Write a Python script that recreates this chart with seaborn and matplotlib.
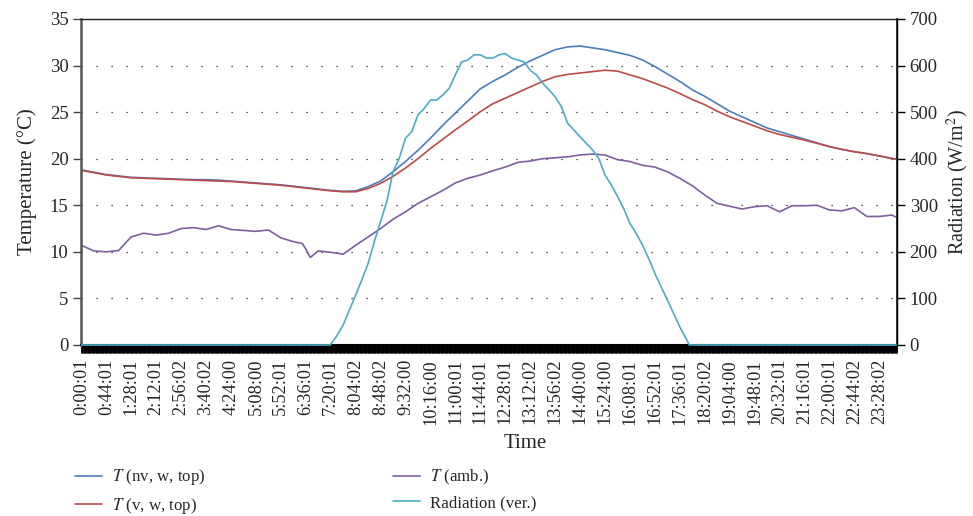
import numpy as np
import pandas as pd
import matplotlib
matplotlib.use("Agg")
import matplotlib.pyplot as plt
import seaborn as sns

# ---------------- data ----------------
tick_labels = ["0:00:01", "0:44:01", "1:28:01", "2:12:01", "2:56:02", "3:40:02",
               "4:24:00", "5:08:00", "5:52:01", "6:36:01", "7:20:01", "8:04:02",
               "8:48:02", "9:32:00", "10:16:00", "11:00:01", "11:44:01", "12:28:01",
               "13:12:02", "13:56:02", "14:40:00", "15:24:00", "16:08:01", "16:52:01",
               "17:36:01", "18:20:02", "19:04:00", "19:48:01", "20:32:01", "21:16:01",
               "22:00:01", "22:44:02", "23:28:02"]
tick_minutes = [0, 44, 88, 132, 176, 220, 264, 308, 352, 396, 440, 484, 528, 572,
                616, 660, 704, 748, 792, 836, 880, 924, 968, 1012, 1056, 1100, 1144,
                1188, 1232, 1276, 1320, 1364, 1408]
n_samples = 1440

temp_minutes = [0, 22, 44, 66, 88, 110, 132, 154, 176, 198,
                220, 242, 264, 286, 308, 330, 352, 374, 396, 418,
                440, 462, 484, 506, 528, 550, 572, 594, 616, 638,
                660, 682, 704, 726, 748, 770, 792, 814, 836, 858,
                880, 902, 924, 946, 968, 990, 1012, 1034, 1056, 1078,
                1100, 1122, 1144, 1166, 1188, 1210, 1232, 1254, 1276, 1298,
                1320, 1342, 1364, 1386, 1408, 1430, 1439]
t_nv_w_top = [18.8, 18.55, 18.3, 18.15, 18.0, 17.95, 17.9, 17.85, 17.8, 17.75,
              17.75, 17.7, 17.6, 17.5, 17.4, 17.3, 17.2, 17.05, 16.9, 16.75,
              16.6, 16.5, 16.55, 17.0, 17.6, 18.6, 19.7, 20.9, 22.2, 23.6,
              24.9, 26.2, 27.5, 28.3, 29.0, 29.8, 30.5, 31.1, 31.7, 32.0,
              32.1, 31.9, 31.7, 31.4, 31.1, 30.6, 29.9, 29.1, 28.3, 27.4,
              26.7, 25.9, 25.1, 24.5, 23.9, 23.3, 22.9, 22.5, 22.1, 21.7,
              21.3, 21.0, 20.75, 20.55, 20.3, 20.05, 19.95]
t_v_w_top = [18.75, 18.5, 18.25, 18.1, 17.95, 17.9, 17.85, 17.8, 17.75, 17.7,
             17.65, 17.6, 17.55, 17.45, 17.35, 17.25, 17.15, 17.0, 16.85, 16.7,
             16.55, 16.45, 16.45, 16.8, 17.35, 18.1, 19.0, 20.0, 21.1, 22.1,
             23.1, 24.05, 25.05, 25.9, 26.5, 27.1, 27.7, 28.3, 28.8, 29.05,
             29.2, 29.35, 29.5, 29.4, 29.0, 28.6, 28.1, 27.6, 27.0, 26.35,
             25.8, 25.1, 24.5, 24.0, 23.5, 23.0, 22.6, 22.3, 22.0, 21.65,
             21.3, 21.0, 20.75, 20.55, 20.3, 20.0, 19.95]

amb_minutes = [0, 11, 22, 44, 66, 77, 88, 110, 132, 154, 176, 198, 220, 242, 264,
               286, 308, 330, 352, 374, 390, 396, 404, 418, 440, 462, 484, 506,
               528, 550, 572, 594, 616, 638, 660, 682, 704, 726, 748, 770, 792,
               814, 836, 858, 880, 902, 924, 946, 968, 990, 1012, 1034, 1056,
               1078, 1100, 1122, 1144, 1166, 1188, 1210, 1232, 1254, 1276, 1298,
               1320, 1342, 1364, 1386, 1408, 1430, 1439]
t_amb = [10.7, 10.4, 10.1, 10.0, 10.15, 10.9, 11.6, 12.0, 11.8, 12.0, 12.5, 12.6,
         12.4, 12.8, 12.4, 12.3, 12.2, 12.35, 11.5, 11.1, 10.9, 10.3, 9.4, 10.1,
         9.95, 9.75, 10.7, 11.6, 12.5, 13.5, 14.3, 15.2, 15.9, 16.6, 17.4, 17.9,
         18.25, 18.7, 19.1, 19.6, 19.75, 20.0, 20.1, 20.2, 20.4, 20.5, 20.4, 19.9,
         19.7, 19.3, 19.1, 18.6, 17.9, 17.1, 16.1, 15.2, 14.9, 14.6, 14.85, 14.95,
         14.3, 14.95, 14.95, 15.0, 14.5, 14.4, 14.75, 13.8, 13.8, 13.95, 13.7]

rad_minutes = [0, 439, 450, 462, 473, 484, 495, 506, 517, 528, 539, 550, 561, 572,
               583, 594, 605, 616, 627, 638, 649, 660, 671, 682, 693, 704, 715, 726,
               737, 748, 759, 770, 781, 792, 803, 814, 825, 836, 847, 858, 869, 880,
               891, 902, 913, 924, 935, 946, 957, 968, 979, 990, 1001, 1012, 1023,
               1034, 1045, 1056, 1067, 1073, 1439]
radiation = [0, 0, 18, 43, 75, 107, 140, 175, 222, 265, 308, 372, 401, 444,
             458, 494, 508, 526, 526, 537, 551, 580, 608, 612, 623, 623, 616, 616,
             623, 626, 616, 612, 608, 590, 580, 562, 548, 533, 512, 476, 462, 447,
             433, 419, 401, 365, 344, 319, 293, 261, 240, 215, 186, 154, 125,
             97, 68, 39, 14, 0, 0]

labels = ["$T$ (nv, w, top)", "$T$ (v, w, top)", "$T$ (amb.)", "Radiation (ver.)"]
colors = ["#4A7EBB", "#BE4B48", "#7D5FA0", "#4BACC6"]

# ---------------- styling ----------------
sns.set_theme(style="ticks")
plt.rcParams["font.family"] = ["Liberation Serif", "DejaVu Serif"]
plt.rcParams["mathtext.fontset"] = "stix"

fig, ax = plt.subplots(figsize=(9.73, 5.16), dpi=100)
fig.subplots_adjust(left=0.0833, right=0.922, top=0.9632, bottom=0.3314)

df_nv = pd.DataFrame({"minute": temp_minutes, "value": t_nv_w_top})
df_v = pd.DataFrame({"minute": temp_minutes, "value": t_v_w_top})
df_amb = pd.DataFrame({"minute": amb_minutes, "value": t_amb})
df_rad = pd.DataFrame({"minute": rad_minutes, "value": radiation})

sns.lineplot(data=df_nv, x="minute", y="value", ax=ax, color=colors[0], lw=1.2, label=labels[0])
sns.lineplot(data=df_v, x="minute", y="value", ax=ax, color=colors[1], lw=1.2, label=labels[1])
sns.lineplot(data=df_amb, x="minute", y="value", ax=ax, color=colors[2], lw=1.2, label=labels[2])

ax2 = ax.twinx()
sns.lineplot(data=df_rad, x="minute", y="value", ax=ax2, color=colors[3], lw=1.2,
             label=labels[3], clip_on=False)

h1, l1 = ax.get_legend_handles_labels()
h2, l2 = ax2.get_legend_handles_labels()
for a in (ax, ax2):
    if a.get_legend() is not None:
        a.get_legend().remove()

# axes limits & ticks
ax.set_xlim(-0.5, n_samples - 0.5)
ax.set_ylim(0, 35)
ax.set_yticks(np.arange(0, 36, 5))
ax2.set_ylim(0, 700)
ax2.set_yticks(np.arange(0, 701, 100))

ax.set_xticks(tick_minutes)
ax.set_xticklabels(tick_labels, rotation=90, fontsize=13.2)
ax.set_xticks(np.arange(n_samples), minor=True)
ax.tick_params(axis="x", which="both", direction="out", length=6, width=0.7,
               color="black", pad=4)
ax.tick_params(axis="y", which="major", direction="out", length=6, width=1.0,
               color="#444444", labelsize=13.5, pad=3)
ax2.tick_params(axis="y", which="major", direction="out", length=6, width=1.0,
                color="black", labelsize=13.5, pad=3)

ax.set_xlabel("Time", fontsize=15)
ax.xaxis.set_label_coords(0.544, -0.272)
ax.set_ylabel("Temperature (°C)", fontsize=15, labelpad=9)
ax2.set_ylabel("Radiation (W/m$^2$)", fontsize=14.5, labelpad=5)

# grid: sparse dotted horizontal lines
ax.grid(False)
ax2.grid(False)
for yv in np.arange(5, 35, 5):
    ax.axhline(yv, color="#222222", lw=0.9, ls=(0, (1, 11)), zorder=0)

# spines
ax.spines["left"].set_color("#555555")
ax.spines["left"].set_linewidth(1.8)
ax.spines["top"].set_color("#222222")
ax.spines["top"].set_linewidth(1.0)
ax.spines["bottom"].set_color("black")
ax.spines["bottom"].set_linewidth(1.5)
ax2.spines["right"].set_color("black")
ax2.spines["right"].set_linewidth(1.0)
for s in ("left", "top", "bottom"):
    ax2.spines[s].set_visible(False)

# legend below the chart
fig.legend(h1 + h2, l1 + l2, loc="upper left", bbox_to_anchor=(0.0771, 0.094),
           ncol=2, frameon=False, fontsize=12.2, handlelength=1.6,
           handletextpad=0.56, columnspacing=11.1, labelspacing=0.48,
           borderaxespad=0, borderpad=0)

fig.savefig("out.png", dpi=100)
